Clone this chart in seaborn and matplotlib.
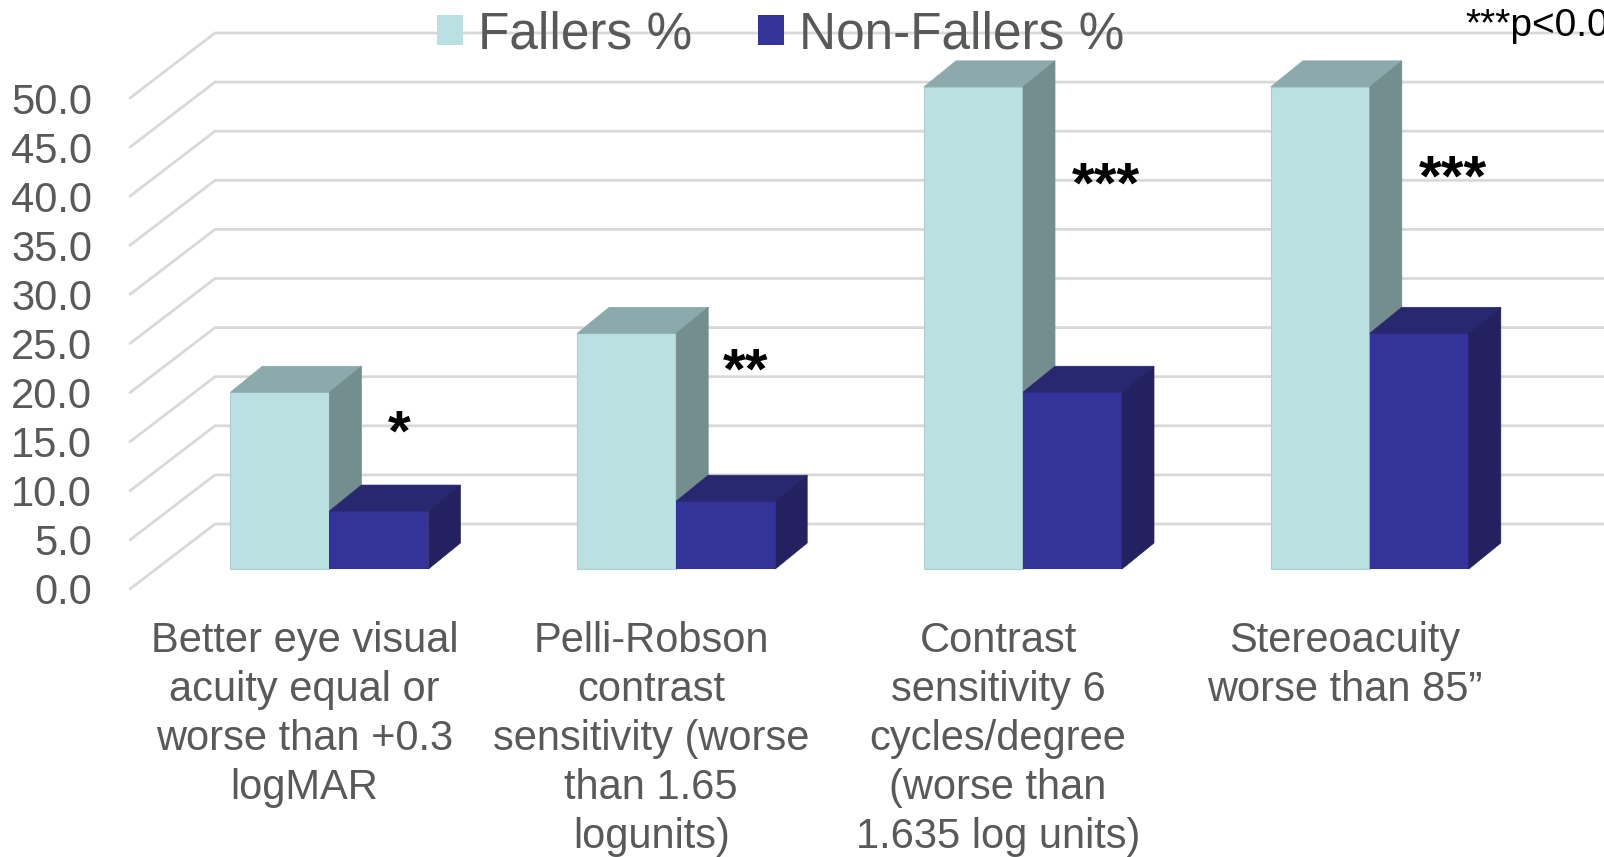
import matplotlib
matplotlib.use("Agg")
import matplotlib.pyplot as plt
import matplotlib.transforms as mtransforms
from matplotlib.patches import Polygon
import seaborn as sns
import pandas as pd
import numpy as np

# data
categories = [
    "Better eye visual\nacuity equal or\nworse than +0.3\nlogMAR",
    "Pelli-Robson\ncontrast\nsensitivity (worse\nthan 1.65\nlogunits)",
    "Contrast\nsensitivity 6\ncycles/degree\n(worse than\n1.635 log units)",
    "Stereoacuity\nworse than 85\u201d",
]
series = ["Fallers %", "Non-Fallers %"]
fallers = [18.0, 24.0, 49.1, 49.1]
non_fallers = [5.9, 6.9, 18.0, 24.0]
stars = ["*", "**", "***", "***"]
yticks = np.arange(0, 51, 5)

# annotation spots (data units)
star_x = [0.20, 1.20, 2.24, 3.24]
star_y = [12.1, 18.4, 37.3, 38.0]

df = pd.DataFrame({
    "category": categories * 2,
    "series": [series[0]] * 4 + [series[1]] * 4,
    "value": fallers + non_fallers,
})

front_cols = ["#BAE0E1", "#333399"]
top_cols = ["#8CAAAB", "#272870"]
side_cols = ["#748E8F", "#232160"]
grid_col = "#D9D9D9"
text_col = "#595959"

W, H, DPI = 1604, 857, 100
# pixel layout of the 3d look
x0_px, ppx = 329.4, 346.8     # category 0 centre, pixels per category
y0_px, ppy = 569.0, 9.82      # value 0 on the bar plane, pixels per unit
ax_l, ax_r, ax_b = 130, 1604, 589
depth_dx, depth_dy = 32, 26   # bar depth
wall_dx = 85                  # floor depth to back wall
front_off, back_off = 20, 45  # front edge below / back wall above bar plane

sns.set_style("white")
plt.rcParams["font.family"] = ["Liberation Sans", "DejaVu Sans"]

fig = plt.figure(figsize=(W / DPI, H / DPI), dpi=DPI)
ax = fig.add_axes([ax_l / W, 1 - ax_b / H, (ax_r - ax_l) / W, ax_b / H])

sns.barplot(data=df, x="category", y="value", hue="series",
            palette=front_cols, saturation=1, width=2 * 99 / ppx,
            ax=ax, edgecolor="none")

ax.set_xlim((ax_l - x0_px) / ppx, (ax_r - x0_px) / ppx)
ax.set_ylim((y0_px - ax_b) / ppy, y0_px / ppy)

dX, dY = depth_dx / ppx, depth_dy / ppy

# gridlines: front edge -> back wall -> right
xl = ax.get_xlim()[0]
xr = ax.get_xlim()[1]
xb = xl + wall_dx / ppx
for v in yticks:
    yf = v - front_off / ppy
    yb = v + back_off / ppy
    ax.plot([xl, xb, xr], [yf, yb, yb], color=grid_col, lw=2,
            zorder=1, clip_on=False, solid_joinstyle="miter")

# 3d faces on each bar
for j, cont in enumerate(ax.containers):
    for i, bar in enumerate(cont):
        x, w, h = bar.get_x(), bar.get_width(), bar.get_height()
        z = 3 + i * 2 + j
        bar.set_zorder(z)
        if j == 0:
            bar.set_edgecolor("#A9CFD0")
            bar.set_linewidth(0.8)
        top = Polygon([(x, h), (x + w, h), (x + w + dX, h + dY), (x + dX, h + dY)],
                      closed=True, facecolor=top_cols[j], edgecolor=top_cols[j],
                      lw=0.5, zorder=z)
        side = Polygon([(x + w, 0), (x + w, h), (x + w + dX, h + dY), (x + w + dX, dY)],
                       closed=True, facecolor=side_cols[j], edgecolor=side_cols[j],
                       lw=0.5, zorder=z)
        ax.add_patch(top)
        ax.add_patch(side)

for s, sx, sy in zip(stars, star_x, star_y):
    ax.text(sx, sy, s, ha="center", va="baseline", fontsize=42,
            fontweight="bold", color="black", zorder=20)

# axes text
ax.set_yticks(yticks)
ax.set_yticklabels([f"{t:.1f}" for t in yticks])
ax.tick_params(axis="y", length=0, pad=27.4, labelsize=30, labelcolor=text_col)
ax.set_xticks(range(len(categories)))
ax.set_xticklabels(categories)
ax.tick_params(axis="x", length=0, pad=23, labelsize=30, labelcolor=text_col)
ax.set_xlabel("")
ax.set_ylabel("")
for sp in ax.spines.values():
    sp.set_visible(False)

down = mtransforms.ScaledTranslation(0, -front_off / DPI, fig.dpi_scale_trans)
for lab in ax.get_yticklabels():
    lab.set_transform(lab.get_transform() + down)
left = mtransforms.ScaledTranslation(-25 / DPI, 0, fig.dpi_scale_trans)
for lab in ax.get_xticklabels():
    lab.set_transform(lab.get_transform() + left)
    lab.set_linespacing(1.29)

handles, labels = ax.get_legend_handles_labels()
ax.get_legend().remove()
fig.legend(handles, labels, loc="center", bbox_to_anchor=(781 / W, 1 - 35 / H),
           ncol=2, frameon=False, prop={"size": 37}, labelcolor=text_col,
           handlelength=0.5, handleheight=0.53, handletextpad=0.3,
           columnspacing=1.28)

fig.text(1465 / W, 1 - 36 / H, "***p<0.001", ha="left", va="baseline",
         fontsize=28, color="black")

fig.savefig("out.png", dpi=DPI, facecolor="white")
